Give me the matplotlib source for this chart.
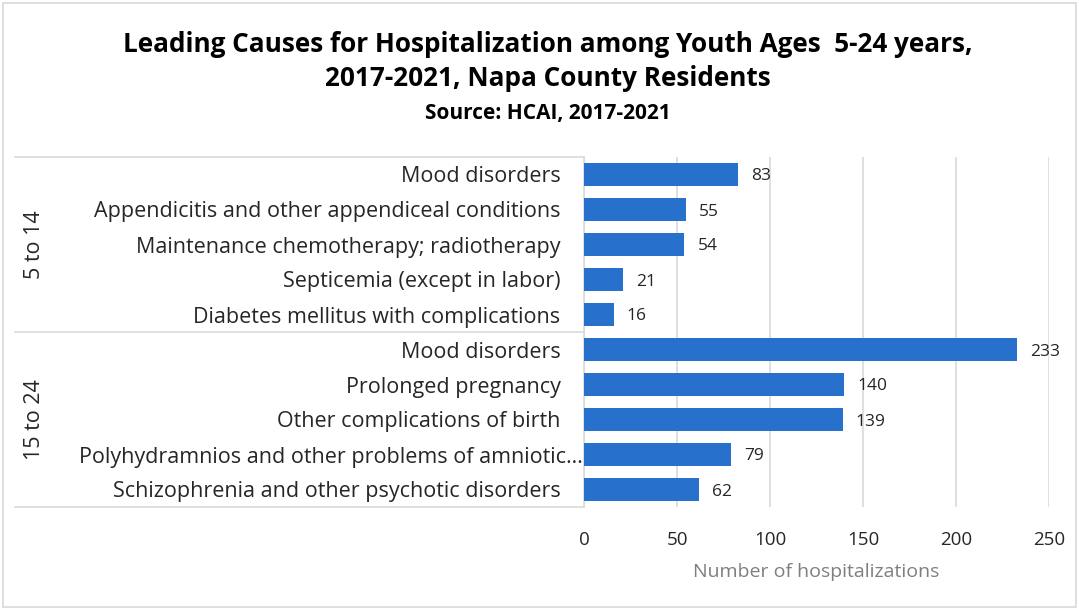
import matplotlib
matplotlib.use("Agg")
import matplotlib.pyplot as plt
import matplotlib.transforms as mtransforms
from matplotlib.patches import Rectangle

plt.rcParams['font.family'] = ['Open Sans', 'DejaVu Sans']

groups = ["5 to 14", "15 to 24"]
categories_5_14 = ["Mood disorders",
                   "Appendicitis and other appendiceal conditions",
                   "Maintenance chemotherapy; radiotherapy",
                   "Septicemia (except in labor)",
                   "Diabetes mellitus with complications"]
values_5_14 = [83, 55, 54, 21, 16]
categories_15_24 = ["Mood disorders",
                    "Prolonged pregnancy",
                    "Other complications of birth",
                    "Polyhydramnios and other problems of amniotic\u2026",
                    "Schizophrenia and other psychotic disorders"]
values_15_24 = [233, 140, 139, 79, 62]
xticks = [0, 50, 100, 150, 200, 250]

labels = categories_5_14 + categories_15_24
values = values_5_14 + values_15_24

W, H = 1079, 609
fig = plt.figure(figsize=(W / 100, H / 100), dpi=100)
fig.patches.append(Rectangle((3 / W, 2 / H), 1 - 6 / W, 1 - 5 / H, transform=fig.transFigure,
                             fill=False, edgecolor="#D9D9D9", linewidth=1.2))

ax = fig.add_axes([584 / W, 1 - 507 / H, (1049 - 584) / W, (507 - 157) / H])
ypos = list(range(len(values)))
bars = ax.barh(ypos, values, height=0.68, color="#2771CC", zorder=3)
ax.set_ylim(len(values) - 0.5, -0.5)
ax.set_xlim(0, 250)
ax.set_xticks(xticks)
ax.set_xticklabels([str(t) for t in xticks], fontsize=13.5, color="#262626")
ax.tick_params(axis='x', length=0, pad=17.5)
ax.set_yticks(ypos)
ax.set_yticklabels(labels, fontsize=15.5, color="#262626")
ax.tick_params(axis='y', length=0, pad=17)
ax.grid(axis='x', color="#D9D9D9", linewidth=1.2, zorder=0)
for s in ["top", "right", "bottom"]:
    ax.spines[s].set_visible(False)
ax.spines["left"].set_color("#D9D9D9")
ax.spines["left"].set_linewidth(1.2)

# truncated label sits further right, as in the original
for lbl in ax.get_yticklabels():
    if lbl.get_text().endswith("\u2026"):
        lbl.set_transform(lbl.get_transform() +
                          mtransforms.ScaledTranslation(0.22, 0, fig.dpi_scale_trans))

for b, v in zip(bars, values):
    ax.text(v + 7, b.get_y() + b.get_height() / 2, str(v), va="center_baseline", ha="left",
            fontsize=12.5, color="#262626")

ax.set_xlabel("Number of hospitalizations", fontsize=14, color="#7F7F7F", labelpad=10)

blend = mtransforms.blended_transform_factory(fig.transFigure, ax.transData)
for yb in [-0.5, 4.5, 9.5]:
    ax.plot([15 / W, 584 / W], [yb, yb], transform=blend, clip_on=False,
            color="#D9D9D9", linewidth=1.2)
for gi, g in enumerate(groups):
    ax.text(34 / W, gi * 5 + 2, g, transform=blend, rotation=90, ha="center", va="center",
            fontsize=15.5, color="#262626")

fig.text(548 / W, 1 - 45 / H, "Leading Causes for Hospitalization among Youth Ages  5-24 years,",
         ha="center", va="center", fontsize=18.8, fontweight="bold", color="#000000")
fig.text(548 / W, 1 - 79 / H, "2017-2021, Napa County Residents",
         ha="center", va="center", fontsize=18.8, fontweight="bold", color="#000000")
fig.text(548 / W, 1 - 113 / H, "Source: HCAI, 2017-2021",
         ha="center", va="center", fontsize=15, fontweight="bold", color="#000000")

fig.savefig("out.png", dpi=100)
